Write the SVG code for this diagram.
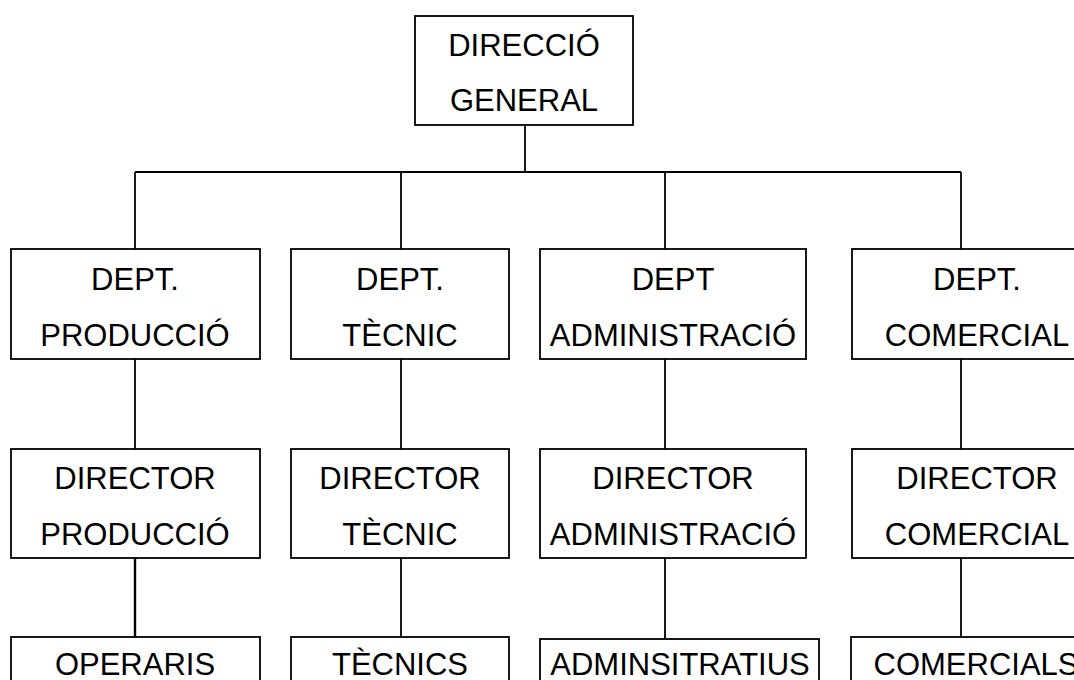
<svg xmlns="http://www.w3.org/2000/svg" width="1074" height="680" viewBox="0 0 1074 680">
<style>
rect{fill:#fff;stroke:#000;stroke-width:1.8}
line{stroke:#000;stroke-width:1.8}
text{font-family:"Liberation Sans",Arial,sans-serif;font-size:31px;fill:#000;text-anchor:middle}
</style>
<rect x="0" y="0" width="1074" height="680" style="stroke:none"/>
<g id="connectors">
<line x1="525" y1="125" x2="525" y2="172"/>
<line x1="135" y1="172" x2="961" y2="172"/>
<line x1="135" y1="172" x2="135" y2="249"/>
<line x1="401" y1="172" x2="401" y2="249"/>
<line x1="665" y1="172" x2="665" y2="249"/>
<line x1="961" y1="172" x2="961" y2="249"/>
<line x1="135" y1="359" x2="135" y2="449"/>
<line x1="401" y1="359" x2="401" y2="449"/>
<line x1="665" y1="359" x2="665" y2="449"/>
<line x1="961" y1="359" x2="961" y2="449"/>
<line x1="135" y1="558" x2="135" y2="637" style="stroke-width:2.4"/>
<line x1="401" y1="558" x2="401" y2="637"/>
<line x1="665" y1="558" x2="665" y2="639"/>
<line x1="961" y1="558" x2="961" y2="637"/>
</g>
<g id="direccio-general">
<rect x="415" y="16" width="218" height="109"/>
<text x="524" y="56">DIRECCIÓ</text>
<text x="524" y="111">GENERAL</text>
</g>
<g id="dept-produccio">
<rect x="11" y="249" width="249" height="110"/>
<text x="135" y="290">DEPT.</text>
<text x="135" y="346">PRODUCCIÓ</text>
</g>
<g id="dept-tecnic">
<rect x="291" y="249" width="218" height="110"/>
<text x="400" y="290">DEPT.</text>
<text x="400" y="346">TÈCNIC</text>
</g>
<g id="dept-administracio">
<rect x="540" y="249" width="266" height="110"/>
<text x="673" y="290">DEPT</text>
<text x="673" y="346">ADMINISTRACIÓ</text>
</g>
<g id="dept-comercial">
<rect x="852" y="249" width="250" height="110"/>
<text x="977" y="290">DEPT.</text>
<text x="977" y="346">COMERCIAL</text>
</g>
<g id="director-produccio">
<rect x="11" y="449" width="249" height="109"/>
<text x="135" y="489">DIRECTOR</text>
<text x="135" y="545">PRODUCCIÓ</text>
</g>
<g id="director-tecnic">
<rect x="291" y="449" width="218" height="109"/>
<text x="400" y="489">DIRECTOR</text>
<text x="400" y="545">TÈCNIC</text>
</g>
<g id="director-administracio">
<rect x="540" y="449" width="266" height="109"/>
<text x="673" y="489">DIRECTOR</text>
<text x="673" y="545">ADMINISTRACIÓ</text>
</g>
<g id="director-comercial">
<rect x="852" y="449" width="250" height="109"/>
<text x="977" y="489">DIRECTOR</text>
<text x="977" y="545">COMERCIAL</text>
</g>
<g id="operaris">
<rect x="11" y="637" width="249" height="100"/>
<text x="135" y="675">OPERARIS</text>
</g>
<g id="tecnics">
<rect x="291" y="637" width="218" height="100"/>
<text x="400" y="675">TÈCNICS</text>
</g>
<g id="adminsitratius">
<rect x="540" y="639" width="279" height="100"/>
<text x="680" y="675">ADMINSITRATIUS</text>
</g>
<g id="comercials">
<rect x="851" y="637" width="250" height="100"/>
<text x="976" y="675">COMERCIALS</text>
</g>
</svg>
